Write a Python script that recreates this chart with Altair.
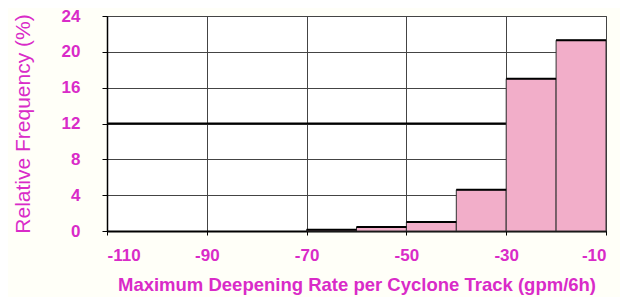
import altair as alt
import pandas as pd

bin_start = [-110, -100, -90, -80, -70, -60, -50, -40, -30, -20]
bin_end = [-100, -90, -80, -70, -60, -50, -40, -30, -20, -10]
freq = [0.0, 0.0, 0.0, 0.0, 0.15, 0.45, 1.0, 4.6, 17.0, 21.3]
x_ticks = [-110, -90, -70, -50, -30, -10]
y_ticks = [0, 4, 8, 12, 16, 20, 24]

df = pd.DataFrame({"start": bin_start, "end": bin_end, "freq": freq})
bars_df = df[df["freq"] > 0]

MAG = "#D92BC8"
PINK = "#F2AEC9"
FONT = "Liberation Sans Narrow, Liberation Sans, Arial"

xs = alt.Scale(domain=[-110, -10], nice=False, zero=False)
ys = alt.Scale(domain=[0, 24], nice=False)

xaxis = alt.Axis(values=x_ticks, title="Maximum Deepening Rate per Cyclone Track (gpm/6h)",
                 labelExpr="datum.value < 0 ? '-' + abs(datum.value) : '' + datum.value",
                 grid=True, gridColor="#444444", gridWidth=1, labelOverlap=False,
                 labelColor=MAG, titleColor=MAG, labelFontSize=17, titleFontSize=18.5,
                 labelFont=FONT, titleFont="Liberation Sans",
                 labelFontWeight="bold", titleFontWeight="bold",
                 domainColor="#000000", domainWidth=2, tickColor="#000000",
                 tickSize=4, labelPadding=12, titlePadding=12)

yaxis = alt.Axis(values=y_ticks, title="Relative Frequency (%)",
                 grid=True, gridColor="#444444", gridWidth=1, labelOverlap=False,
                 labelColor=MAG, titleColor=MAG, labelFontSize=17, titleFontSize=21,
                 labelFont=FONT, titleFont="Liberation Sans",
                 labelFontWeight="bold", titleFontWeight="normal",
                 domainColor="#000000", domainWidth=1.5, tickColor="#000000",
                 tickSize=5, labelPadding=22, titlePadding=28)

base = alt.Chart(bars_df)

bars = base.mark_rect(fill=PINK, stroke="#333333", strokeWidth=1).encode(
    x=alt.X("start:Q", scale=xs, axis=xaxis),
    x2="end:Q",
    y=alt.Y("freq:Q", scale=ys, axis=yaxis),
    y2=alt.datum(0),
)

tops = base.mark_rule(color="#000000", strokeWidth=2).encode(
    x=alt.X("start:Q", scale=xs, axis=xaxis), x2="end:Q",
    y=alt.Y("freq:Q", scale=ys, axis=yaxis)
)

mid = alt.Chart(pd.DataFrame({"v": [12]})).mark_rule(color="#000000", strokeWidth=2).encode(
    y=alt.Y("v:Q", scale=ys, axis=yaxis)
)

chart = alt.layer(mid, bars, tops).properties(
    width=499, height=215,
    autosize=alt.AutoSizeParams(type="none"),
    padding={"left": 99, "top": 8, "right": 14, "bottom": 66},
    background="#FFFFF8",
).configure_view(fill="#FFFFFF", stroke="#555555", strokeWidth=1)

chart.save("out.html", embed_options={"renderer": "svg", "actions": False})
